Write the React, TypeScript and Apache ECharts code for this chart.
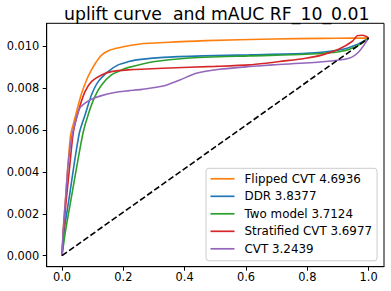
import React, { useEffect, useRef } from "react";
import * as echarts from "echarts";

const TITLE = "uplift curve  and mAUC RF_10_0.01";
const X_TICKS = [0, 0.2, 0.4, 0.6, 0.8, 1.0];
const Y_TICKS = [0, 0.002, 0.004, 0.006, 0.008, 0.01];

const SERIES_NAMES = ["DDR 3.8377", "Flipped CVT 4.6936", "Two model 3.7124", "Stratified CVT 3.6977", "CVT 3.2439"];
const LEGEND_ORDER = ["Flipped CVT 4.6936", "DDR 3.8377", "Two model 3.7124", "Stratified CVT 3.6977", "CVT 3.2439"];
const COLORS = ["#1f77b4", "#ff7f0e", "#2ca02c", "#d62728", "#9467bd"];

const ddrX = [0, 0.0075, 0.024, 0.04, 0.057, 0.075, 0.096, 0.118, 0.15, 0.183, 0.215, 0.243, 0.33, 0.46, 0.611, 0.795, 0.904, 0.958, 1.0];
const ddrY = [0, 0.00124, 0.00283, 0.00442, 0.0059, 0.00673, 0.00768, 0.00832, 0.0088, 0.00912, 0.00927, 0.00936, 0.00948, 0.00955, 0.0096, 0.00967, 0.00983, 0.01007, 0.0104];

const flipX = [0, 0.004, 0.012, 0.02, 0.028, 0.042, 0.053, 0.064, 0.08, 0.096, 0.112, 0.129, 0.157, 0.2, 0.254, 0.35, 0.47, 0.686, 0.85, 0.946, 1.0];
const flipY = [0, 0.00124, 0.00283, 0.00442, 0.00578, 0.00657, 0.00721, 0.00777, 0.0084, 0.00888, 0.00927, 0.00959, 0.00983, 0.00999, 0.01012, 0.0102, 0.01028, 0.01036, 0.01039, 0.0104, 0.0104];

const twoX = [0, 0.012, 0.031, 0.05, 0.069, 0.085, 0.107, 0.129, 0.161, 0.194, 0.215, 0.297, 0.406, 0.611, 0.795, 0.904, 0.958, 1.0];
const twoY = [0, 0.00124, 0.00283, 0.00442, 0.0059, 0.00673, 0.0076, 0.00816, 0.00864, 0.00888, 0.00899, 0.00927, 0.00944, 0.00955, 0.00963, 0.00975, 0.00999, 0.0104];

const stratX = [0, 0.005, 0.015, 0.026, 0.037, 0.053, 0.075, 0.096, 0.129, 0.161, 0.215, 0.33, 0.5, 0.611, 0.666, 0.709, 0.795, 0.849, 0.904, 0.947, 0.963, 0.979, 0.992, 1.0];
const stratY = [0, 0.00124, 0.00283, 0.00442, 0.0059, 0.00689, 0.00784, 0.00832, 0.00864, 0.0088, 0.00888, 0.00896, 0.00905, 0.00912, 0.0092, 0.00928, 0.00944, 0.0096, 0.00988, 0.01025, 0.01052, 0.01054, 0.01048, 0.0104];

const cvtX = [0, 0.004, 0.012, 0.02, 0.033, 0.047, 0.058, 0.075, 0.096, 0.129, 0.172, 0.215, 0.26, 0.33, 0.384, 0.438, 0.514, 0.611, 0.687, 0.849, 0.936, 0.968, 1.0];
const cvtY = [0, 0.00124, 0.00283, 0.00442, 0.00578, 0.00657, 0.00705, 0.00729, 0.00748, 0.00765, 0.0078, 0.00788, 0.00795, 0.00811, 0.0084, 0.00872, 0.00891, 0.00904, 0.00912, 0.00927, 0.00944, 0.00975, 0.0104];

const randomX = [0, 1.0];
const randomY = [0, 0.0104];

const SERIES_X = [ddrX, flipX, twoX, stratX, cvtX];
const SERIES_Y = [ddrY, flipY, twoY, stratY, cvtY];

const FONT = "DejaVu Sans";

function pairs(xs: number[], ys: number[]) {
  return xs.map((x, i) => [x, ys[i]]);
}

export default function App() {
  const ref = useRef<HTMLDivElement>(null);
  useEffect(() => {
    if (!ref.current) return;
    const chart = echarts.init(ref.current, undefined, { renderer: "svg" });
    const lines: any[] = SERIES_NAMES.map((name, i) => ({
      name,
      type: "line",
      data: pairs(SERIES_X[i], SERIES_Y[i]),
      showSymbol: false,
      smooth: 0.25,
      lineStyle: { color: COLORS[i], width: 1.6 },
      itemStyle: { color: COLORS[i] },
      silent: true,
    }));
    lines.push({
      name: "random",
      type: "line",
      data: pairs(randomX, randomY),
      showSymbol: false,
      lineStyle: { color: "#000", width: 1.6, type: [6, 2.7] },
      silent: true,
    });
    chart.setOption({
      animation: false,
      backgroundColor: "#fff",
      title: {
        text: TITLE,
        left: 64,
        top: 5,
        padding: 0,
        textStyle: { fontFamily: FONT, fontSize: 17.3, fontWeight: "normal", color: "#000" },
      },
      grid: {
        left: 46.7,
        top: 23.3,
        width: 337.3,
        height: 243.4,
        show: true,
        borderColor: "#000",
        borderWidth: 1,
        backgroundColor: "transparent",
      },
      legend: {
        orient: "vertical",
        left: 206,
        top: 168.3,
        padding: [3.5, 5, 5, 4.5],
        data: LEGEND_ORDER,
        icon: "rect",
        itemWidth: 24,
        itemHeight: 1.7,
        itemGap: 3.5,
        backgroundColor: "rgba(255,255,255,0.8)",
        borderColor: "#cccccc",
        borderWidth: 1,
        borderRadius: 3,
        textStyle: { fontFamily: FONT, fontSize: 11.9, color: "#000", lineHeight: 14, padding: [0, 0, 0, 5] },
      },
      xAxis: {
        type: "value",
        min: -0.05,
        max: 1.05,
        axisLine: { show: true, onZero: false, lineStyle: { color: "#000", width: 1 } },
        axisTick: { show: true, length: 4, customValues: X_TICKS, lineStyle: { color: "#000", width: 1 } },
        axisLabel: {
          customValues: X_TICKS,
          formatter: (v: number) => v.toFixed(1),
          margin: 5,
          color: "#000",
          fontFamily: FONT,
          fontSize: 11.4,
        },
        splitLine: { show: false },
      },
      yAxis: {
        type: "value",
        min: -0.000529,
        max: 0.011109,
        axisLine: { show: true, onZero: false, lineStyle: { color: "#000", width: 1 } },
        axisTick: { show: true, length: 4, customValues: Y_TICKS, lineStyle: { color: "#000", width: 1 } },
        axisLabel: {
          customValues: Y_TICKS,
          formatter: (v: number) => v.toFixed(3),
          margin: 7.4,
          color: "#000",
          fontFamily: FONT,
          fontSize: 11.4,
        },
        splitLine: { show: false },
      },
      series: lines,
    });
    return () => chart.dispose();
  }, []);
  return <div ref={ref} style={{ width: 391, height: 291, position: "absolute", left: 0, top: 0 }} />;
}
